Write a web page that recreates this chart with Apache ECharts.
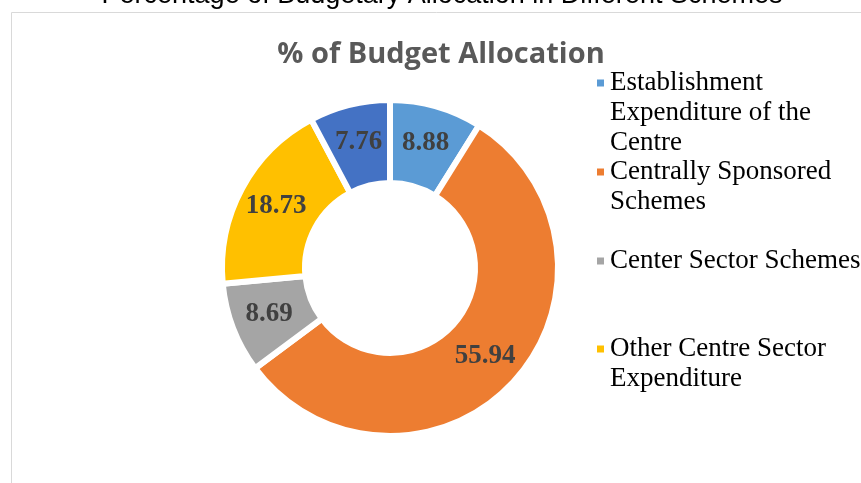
<!DOCTYPE html>
<html>
<head>
<meta charset="utf-8">
<script src="https://cdn.jsdelivr.net/npm/echarts@6/dist/echarts.min.js"></script>
<style>
  html, body { margin: 0; padding: 0; background: #fff; }
  #chart { width: 861px; height: 483px; }
</style>
</head>
<body>
<div id="chart"></div>
<script>
// slice names, in drawing order (clockwise from 12 o'clock)
const schemeNames = [
  'Establishment\nExpenditure of the\nCentre',
  'Centrally Sponsored\nSchemes',
  'Center Sector Schemes',
  'Other Centre Sector\nExpenditure',
  'Others'
]
const shares = [8.88, 55.94, 8.69, 18.73, 7.76]
const sliceColors = ['#5B9BD5', '#ED7D31', '#A5A5A5', '#FFC000', '#4472C4']
// only the first four appear in the legend
const legendNames = schemeNames.slice(0, 4)
const legendIconY = [83, 172, 261, 349]

const LINE_H = 30

let chart = echarts.init(document.getElementById('chart'))

// one legend per entry; blank lines in front keep the square on the first text line
let legends = legendNames.map(function (name, i) {
  let n = name.split('\n').length
  return {
    orient: 'vertical',
    left: 595,
    top: legendIconY[i] - (2 * n - 1) * LINE_H / 2,
    padding: 0,
    itemWidth: 9,
    itemHeight: 9,
    itemGap: 0,
    icon: 'rect',
    selectedMode: false,
    data: [name],
    formatter: function (nm) {
      return '\n'.repeat(n - 1) + nm
    },
    textStyle: {
      fontFamily: 'Liberation Serif',
      fontSize: 27,
      color: '#000',
      lineHeight: LINE_H
    }
  }
})

chart.setOption({
  animation: false,
  color: sliceColors,
  title: [
    {
      // chart title, mostly cut off by the top edge
      text: 'Percentage of Budgetary Allocation in Different Schemes',
      left: 442,
      textAlign: 'center',
      top: -18,
      padding: 0,
      textStyle: {
        fontFamily: 'Liberation Sans',
        fontWeight: 'normal',
        fontSize: 27,
        color: '#000'
      }
    },
    {
      text: '% of Budget Allocation',
      left: 441,
      textAlign: 'center',
      top: 40,
      padding: 0,
      textStyle: {
        fontFamily: 'Open Sans',
        fontWeight: 'bold',
        fontSize: 29,
        color: '#595959'
      }
    }
  ],
  legend: legends,
  graphic: [
    {
      type: 'rect',
      silent: true,
      shape: { x: 11.5, y: 12.5, width: 900, height: 500 },
      style: { fill: 'none', stroke: '#D9D9D9', lineWidth: 1 }
    }
  ],
  series: [
    {
      type: 'pie',
      center: [390, 268],
      radius: [85, 168],
      startAngle: 90,
      clockwise: true,
      avoidLabelOverlap: false,
      itemStyle: {
        borderColor: '#fff',
        borderWidth: 6
      },
      label: {
        show: true,
        position: 'inside',
        formatter: function (p) { return p.value.toFixed(2) },
        fontFamily: 'Liberation Serif',
        fontWeight: 'bold',
        fontSize: 27,
        color: '#404040'
      },
      labelLine: { show: false },
      emphasis: { disabled: true },
      data: shares.map(function (v, i) {
        return { name: schemeNames[i], value: v }
      })
    }
  ]
})
</script>
</body>
</html>
